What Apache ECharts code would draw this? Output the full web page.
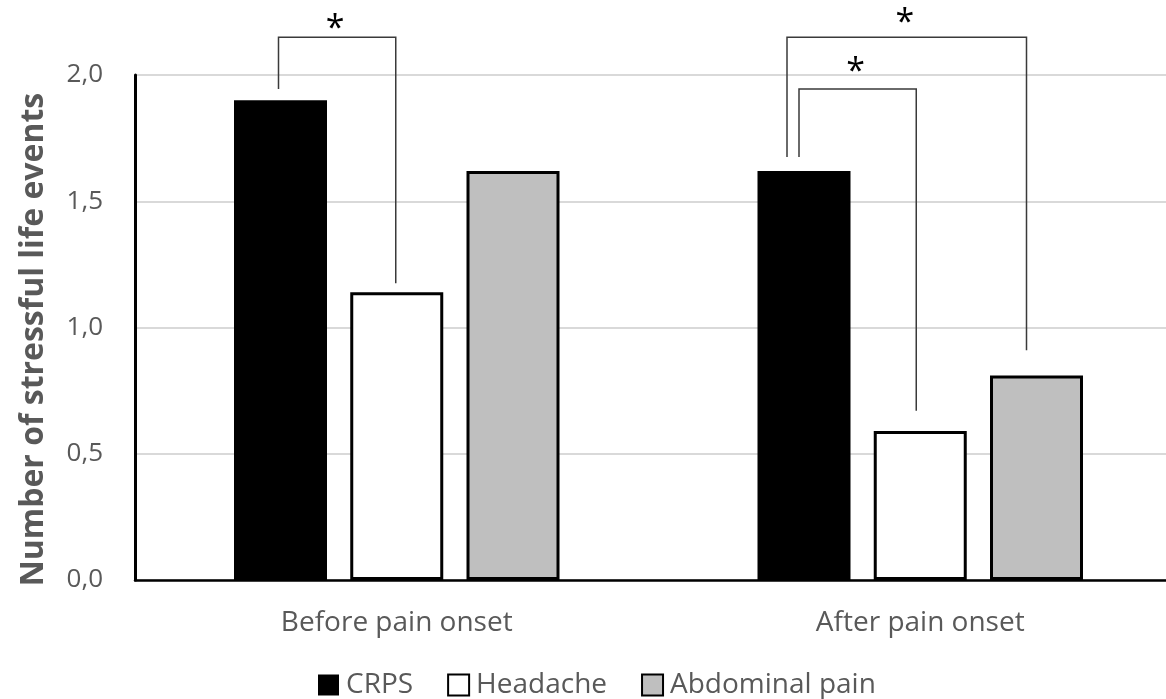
<!DOCTYPE html>
<html>
<head>
<meta charset="utf-8">
<script src="https://cdn.jsdelivr.net/npm/echarts@6/dist/echarts.min.js"></script>
<style>
  html, body { margin: 0; padding: 0; background: #fff; }
  #main { width: 1166px; height: 699px; }
</style>
</head>
<body>
<div id="main"></div>
<script>
const periods = ["Before pain onset", "After pain onset"];
const crps = [1.9, 1.62];
const headache = [1.14, 0.59];
const abdominal = [1.62, 0.81];

// significance brackets: [period, fromSeries, toSeries, startValue, topValue, endValue]
const brackets = [
  [0, 0, 1, 1.945, 2.15, 1.175],
  [1, 0, 1, 1.675, 1.945, 0.67],
  [1, 0, 2, 1.675, 2.15, 0.91]
];
// small horizontal shifts of the bracket legs and star lift (px)
const bracketShift = [[-2, -1], [-5, -4], [-17, -10]];
const starLift = [16, 25, 22];

const chartDom = document.getElementById("main");
const myChart = echarts.init(chartDom);
const font = "'Open Sans', 'Noto Sans', sans-serif";
const grey = "#595959";

const option = {
  animation: false,
  textStyle: { fontFamily: font },
  grid: { left: 135, width: 1047, top: 75, bottom: 119, containLabel: false, outerBoundsMode: "none" },
  legend: {
    data: ["CRPS", "Headache", "Abdominal pain"],
    left: 313,
    top: 666,
    icon: "rect",
    itemWidth: 21,
    itemHeight: 21,
    itemGap: 34,
    textStyle: { fontSize: 28, color: grey, fontFamily: font, padding: [0, 0, 0, 2] }
  },
  xAxis: {
    type: "category",
    data: periods,
    axisLine: { lineStyle: { color: "#000", width: 2.5 } },
    axisTick: { show: false },
    axisLabel: { fontSize: 28, color: grey, margin: 29, fontFamily: font }
  },
  yAxis: {
    type: "value",
    min: 0,
    max: 2,
    interval: 0.5,
    name: "Number of stressful life events",
    nameLocation: "middle",
    nameGap: 85,
    nameTextStyle: { fontSize: 32, fontWeight: "bold", color: grey, fontFamily: font, padding: [0, 24, 0, 0] },
    axisLine: { show: true, lineStyle: { color: "#000", width: 3 } },
    axisTick: { show: false },
    axisLabel: {
      fontSize: 26,
      color: grey,
      margin: 32,
      fontFamily: font,
      formatter: v => v.toFixed(1).replace(".", ",")
    },
    splitLine: { lineStyle: { color: "#d9d9d9", width: 2 } }
  },
  series: [
    {
      name: "CRPS",
      type: "bar",
      data: crps,
      barWidth: 93,
      barGap: "25%",
      itemStyle: { color: "#000", borderColor: "#000", borderWidth: 0 }
    },
    {
      name: "Headache",
      type: "bar",
      data: headache,
      barWidth: 93,
      barGap: "25%",
      itemStyle: { color: "#fff", borderColor: "#000", borderWidth: 3 }
    },
    {
      name: "Abdominal pain",
      type: "bar",
      data: abdominal,
      barWidth: 93,
      barGap: "25%",
      itemStyle: { color: "#bfbfbf", borderColor: "#000", borderWidth: 3 }
    }
  ]
};

myChart.setOption(option);

// significance brackets placed from the bar layout and the value axis
function barCenter(seriesIdx, periodIdx) {
  const layout = myChart.getModel().getSeriesByIndex(seriesIdx).getData().getItemLayout(periodIdx);
  return layout.x + layout.width / 2;
}
function yPix(v) {
  return myChart.convertToPixel({ yAxisIndex: 0 }, v);
}

const elements = [];
brackets.forEach(([p, from, to, startV, topV, endV], i) => {
  const x1 = barCenter(from, p) + bracketShift[i][0];
  const x2 = barCenter(to, p) + bracketShift[i][1];
  const yTop = yPix(topV);
  elements.push({
    type: "polyline",
    shape: { points: [[x1, yPix(startV)], [x1, yTop], [x2, yTop], [x2, yPix(endV)]] },
    style: { stroke: "#3a3a3a", lineWidth: 1.5, fill: null }
  });
  elements.push({
    type: "text",
    x: (x1 + x2) / 2 - 2,
    y: yTop - starLift[i] + 8,
    style: {
      text: "*",
      fontSize: 34,
      fill: "#000",
      fontFamily: font,
      align: "center",
      verticalAlign: "middle"
    }
  });
});

myChart.setOption({ graphic: { elements } });
</script>
</body>
</html>
